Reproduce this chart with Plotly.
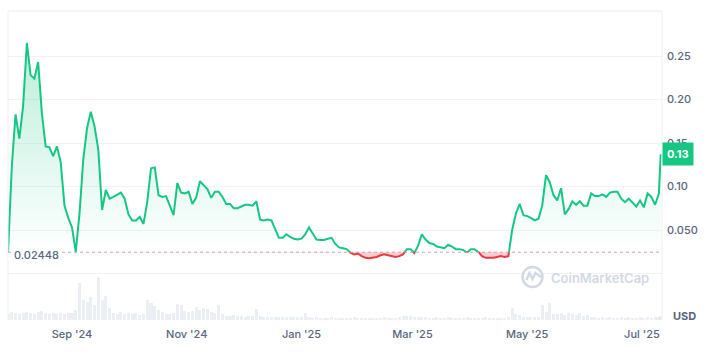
import numpy as np
import pandas as pd
import plotly.graph_objects as go

# ---------------- data ----------------
BASE = 0.02448  # opening price of the period (reference line)

dates = list(pd.date_range("2024-07-29", "2025-07-10", freq="2D")) + [pd.Timestamp("2025-07-11")]

price = [
    0.02448, 0.123, 0.183, 0.155, 0.192, 0.265, 0.228, 0.224, 0.243, 0.184,
    0.146, 0.145, 0.135, 0.146, 0.128, 0.078, 0.064, 0.053, 0.0248, 0.069,
    0.131, 0.167, 0.186, 0.169, 0.142, 0.073, 0.096, 0.086, 0.088, 0.091,
    0.093, 0.086, 0.068, 0.061, 0.061, 0.065, 0.057, 0.082, 0.121, 0.122,
    0.090, 0.088, 0.089, 0.078, 0.067, 0.104, 0.093, 0.092, 0.094, 0.080,
    0.087, 0.106, 0.102, 0.097, 0.087, 0.094, 0.094, 0.088, 0.080, 0.080,
    0.075, 0.075, 0.077, 0.079, 0.079, 0.078, 0.083, 0.062, 0.061, 0.062,
    0.061, 0.050, 0.041, 0.041, 0.045, 0.042, 0.040, 0.039, 0.040, 0.045,
    0.053, 0.046, 0.039, 0.0385, 0.0385, 0.040, 0.041, 0.034, 0.030, 0.029,
    0.028, 0.024, 0.022, 0.023, 0.020, 0.018, 0.0175, 0.018, 0.019, 0.021,
    0.022, 0.021, 0.020, 0.019, 0.020, 0.022, 0.028, 0.028, 0.0235, 0.032,
    0.045, 0.039, 0.035, 0.034, 0.031, 0.030, 0.029, 0.033, 0.031, 0.028,
    0.028, 0.027, 0.024, 0.028, 0.028, 0.025, 0.020, 0.018, 0.018, 0.018,
    0.019, 0.020, 0.019, 0.020, 0.050, 0.069, 0.080, 0.067, 0.066, 0.064,
    0.061, 0.063, 0.078, 0.113, 0.105, 0.090, 0.084, 0.098, 0.068, 0.074,
    0.083, 0.079, 0.083, 0.078, 0.078, 0.092, 0.089, 0.089, 0.091, 0.088,
    0.093, 0.094, 0.094, 0.086, 0.082, 0.086, 0.081, 0.077, 0.084, 0.076,
    0.092, 0.088, 0.079, 0.092, 0.137,
]

volume = [  # relative 24h volume (M USD)
    6, 8, 7, 6, 7, 8, 7, 6, 8, 9,
    7, 6, 7, 6, 7, 6, 7, 7, 10, 37,
    20, 18, 23, 15, 43, 20, 24, 12, 7, 6,
    8, 6, 7, 6, 7, 5, 6, 20, 17, 14,
    10, 8, 6, 6, 7, 16, 15, 9, 8, 9,
    13, 10, 12, 11, 8, 7, 15, 6, 4, 4,
    5, 4, 4, 3, 4, 4, 11, 4, 3, 3,
    3, 3, 3, 3, 3, 3, 3, 3, 3, 7,
    3, 2, 3, 2, 2, 2, 3, 2, 2, 2,
    2, 2, 3, 2, 2, 2, 2, 2, 2, 2,
    3, 2, 2, 2, 3, 4, 4, 4, 3, 3,
    3, 3, 2, 2, 3, 2, 2, 3, 2, 2,
    2, 2, 3, 2, 2, 2, 2, 3, 2, 2,
    2, 2, 2, 3, 12, 6, 5, 3, 3, 3,
    3, 3, 15, 8, 17, 6, 6, 7, 5, 7,
    6, 5, 7, 4, 5, 3, 3, 2, 3, 2,
    3, 2, 2, 3, 2, 3, 2, 2, 3, 2,
    3, 2, 3, 3, 4,
]

tick_dates = ["2024-09-01", "2024-11-01", "2025-01-01", "2025-03-01", "2025-05-01", "2025-07-01"]
tick_text = ["Sep '24", "Nov '24", "Jan '25", "Mar '25", "May '25", "Jul '25"]
y_tickvals = [0, 0.05, 0.10, 0.15, 0.20, 0.25]
y_ticktext = ["", "0.050", "0.10", "0.15", "0.20", "0.25"]
last_label = "0.13"

GREEN = "#16c784"
RED = "#ea3943"
GREY = "#58667e"
FONT = "Inter"

# ---------- insert crossing points with the base line ----------
ts = np.array([d.value for d in dates], dtype=float)
p = np.array(price, dtype=float)
xs, ys = [ts[0]], [p[0]]
for i in range(1, len(p)):
    a, b = p[i - 1] - BASE, p[i] - BASE
    if a * b < 0:
        f = a / (a - b)
        xs.append(ts[i - 1] + f * (ts[i] - ts[i - 1]))
        ys.append(BASE)
    xs.append(ts[i])
    ys.append(p[i])
xd = pd.to_datetime(np.array(xs).astype("int64"))
ys = np.array(ys)
upper = np.maximum(ys, BASE)
lower = np.minimum(ys, BASE)
green_line = np.where(ys >= BASE, ys, np.nan)
red_line = np.where(ys <= BASE, ys, np.nan)
base_arr = np.full(len(ys), BASE)

fig = go.Figure()

# volume bars (own axis at bottom)
fig.add_trace(go.Bar(x=dates, y=volume, yaxis="y2", marker=dict(color="rgba(205,212,225,0.4)", line=dict(width=0)),
                     width=1.6 * 86400000, hoverinfo="skip"))

# green area
fig.add_trace(go.Scatter(x=xd, y=base_arr, mode="lines", line=dict(width=0), hoverinfo="skip"))
fig.add_trace(go.Scatter(x=xd, y=upper, mode="lines", line=dict(width=0), fill="tonexty",
                         fillgradient=dict(type="vertical",
                                           colorscale=[[0, "rgba(22,199,132,0.0)"], [1, "rgba(22,199,132,0.30)"]],
                                           start=BASE, stop=0.27),
                         hoverinfo="skip"))
# red area
fig.add_trace(go.Scatter(x=xd, y=base_arr, mode="lines", line=dict(width=0), hoverinfo="skip"))
fig.add_trace(go.Scatter(x=xd, y=lower, mode="lines", line=dict(width=0), fill="tonexty",
                         fillcolor="rgba(234,57,67,0.25)", hoverinfo="skip"))

# lines
fig.add_trace(go.Scatter(x=xd, y=green_line, mode="lines", line=dict(color=GREEN, width=2), connectgaps=False))
fig.add_trace(go.Scatter(x=xd, y=red_line, mode="lines", line=dict(color=RED, width=2), connectgaps=False))

vmax = max(volume)
fig.update_layout(
    width=710, height=358,
    margin=dict(l=8, r=48, t=11, b=38),
    paper_bgcolor="white", plot_bgcolor="white",
    showlegend=False,
    font=dict(family=FONT, size=11, color=GREY),
    bargap=0,
    xaxis=dict(
        type="date",
        range=["2024-07-28 23:30", "2025-07-11 16:00"],
        tickvals=tick_dates, ticktext=tick_text,
        showgrid=False, zeroline=False, showline=False, ticks="",
        tickfont=dict(family=FONT, size=11, color=GREY, weight=500),
        ticklabelstandoff=6,
    ),
    yaxis=dict(
        side="right",
        range=[-0.05345, 0.30172],
        tickvals=y_tickvals, ticktext=y_ticktext,
        showgrid=True, gridcolor="#f0f2f5", gridwidth=1,
        zeroline=False, showline=False, ticks="",
        tickfont=dict(family=FONT, size=11, color=GREY, weight=500),
        ticklabelstandoff=4,
    ),
    yaxis2=dict(
        overlaying="y", range=[0, vmax * 309 / 43], visible=False, fixedrange=True,
    ),
    shapes=[
        dict(type="line", xref="paper", yref="paper", x0=0, x1=1, y0=1, y1=1, line=dict(color="#e8ebef", width=1)),
        dict(type="line", xref="paper", yref="paper", x0=0, x1=0, y0=0, y1=1, line=dict(color="#eef0f3", width=1)),
        dict(type="line", xref="paper", yref="paper", x0=1, x1=1, y0=0, y1=1, line=dict(color="#eef0f3", width=1)),
        dict(type="line", xref="paper", yref="y", x0=0, x1=1, y0=BASE, y1=BASE,
             line=dict(color="rgba(214,150,156,0.9)", width=1, dash="dot")),
        # watermark logo
        dict(type="circle", xref="paper", yref="paper", xsizemode="pixel", ysizemode="pixel",
             xanchor=(532.5 - 8) / 654, yanchor=(320 - 277) / 309, x0=-10, x1=10, y0=-10, y1=10,
             line=dict(color="#d3d9e4", width=2.5)),
        dict(type="path", xref="paper", yref="paper", xsizemode="pixel", ysizemode="pixel",
             xanchor=(532.5 - 8) / 654, yanchor=(320 - 277) / 309,
             path="M -6 -3 L -3 4 L 0 -2 L 3 4 L 10 -1",
             line=dict(color="#d3d9e4", width=2.5)),
    ],
    annotations=[
        dict(text="CoinMarketCap", xref="paper", yref="paper", x=(549 - 8) / 654, y=(320 - 277.5) / 309,
             xanchor="left", yanchor="middle", showarrow=False,
             font=dict(family=FONT, size=13, color="#d3d9e4", weight=600)),
        dict(text="USD", xref="paper", yref="paper", x=(684.5 - 8) / 654, y=(320 - 316) / 309,
             xanchor="center", yanchor="middle", showarrow=False,
             font=dict(family=FONT, size=11, color=GREY, weight=700)),
        dict(text=last_label, xref="paper", yref="y", x=1, y=price[-1], xanchor="left", yanchor="middle",
             showarrow=False, bgcolor=GREEN, borderpad=4,
             font=dict(family=FONT, size=11, color="white", weight=700)),
        dict(text=f"{BASE}", xref="paper", yref="y", x=(11 - 8) / 654, y=BASE, yshift=-3,
             xanchor="left", yanchor="middle", showarrow=False, bgcolor="white", borderpad=2,
             font=dict(family=FONT, size=11, color=GREY, weight=500)),
    ],
)

fig.write_html("out.html")
